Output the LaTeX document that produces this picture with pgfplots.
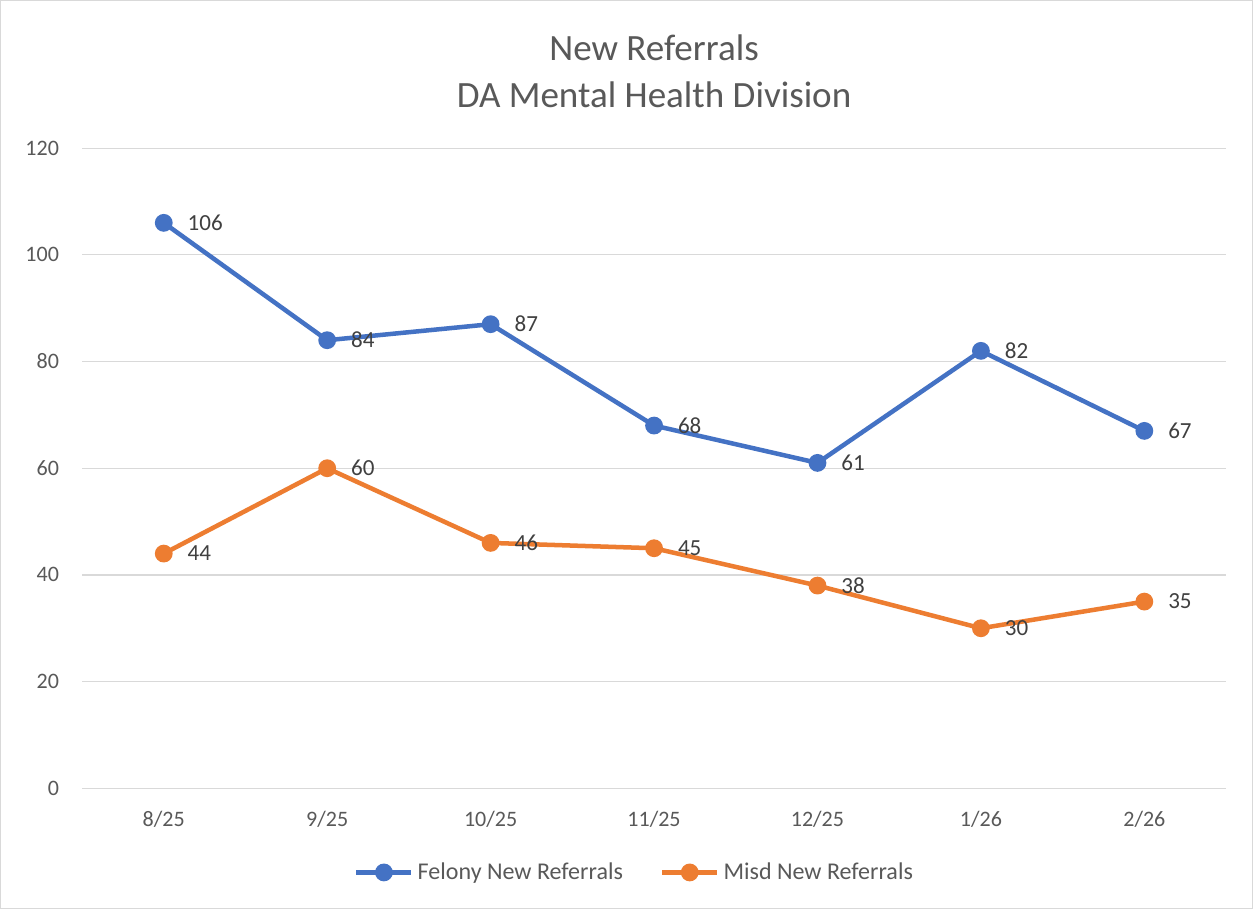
\documentclass[border=0pt]{standalone}
\usepackage{pgfplots}
\pgfplotsset{compat=1.18}
\usepackage{fontspec}
\setmainfont{Carlito}
\definecolor{blueS}{HTML}{4472C4}
\definecolor{orangeS}{HTML}{ED7D31}
\definecolor{txt}{HTML}{595959}
\definecolor{lbl}{HTML}{404040}
\definecolor{gridc}{HTML}{D9D9D9}
\begin{document}
\begin{tikzpicture}
\draw[gridc, fill=white] (0.75pt,0.75pt) rectangle (625.75pt,453.75pt);
\begin{axis}[
  at={(41.5pt,60.5pt)}, anchor=south west,
  scale only axis, width=571pt, height=319.5pt,
  xmin=-0.5, xmax=6.5, ymin=0, ymax=120,
  xtick={0,...,6}, xticklabels={8/25,9/25,10/25,11/25,12/25,1/26,2/26},
  ytick={0,20,...,120},
  axis line style={draw=none},
  x axis line style={draw=gridc},
  xmajorgrids=false, ymajorgrids=true,
  grid style={draw=gridc, line width=0.6pt},
  major tick length=0pt,
  tick label style={font=\fontsize{11}{13}\selectfont, text=txt},
  /pgf/number format/assume math mode=true,
  xticklabel style={yshift=-8pt},
  yticklabel style={xshift=-8pt},
  title={New Referrals\\DA Mental Health Division},
  title style={at={(0.5,1)}, anchor=south, yshift=10.5pt, align=center, font=\fontsize{18.5}{23.5}\selectfont, text=txt},
  legend style={at={(axis description cs:0.5,0)}, anchor=center, yshift=-42pt, xshift=-9.25pt, draw=none, legend columns=2,
    font=\fontsize{12}{14}\selectfont, text=txt, /tikz/every even column/.append style={column sep=16.5pt}},
  legend image code/.code={\draw[#1, line width=2.25pt] (0pt,0pt) -- (27.5pt,0pt); \fill[#1] (13.75pt,0pt) circle (3.3pt);},
  nodes near coords,
  every node near coord/.append style={anchor=west, xshift=7.5pt, font=\fontsize{11.5}{13}\selectfont, text=lbl},
]
\addplot[blueS, line width=2.25pt, mark=*, mark size=3.3pt] coordinates {
(0,106) (1,84) (2,87) (3,68) (4,61) (5,82) (6,67)};
\addlegendentry{Felony New Referrals}
\addplot[orangeS, line width=2.25pt, mark=*, mark size=3.3pt] coordinates {
(0,44) (1,60) (2,46) (3,45) (4,38) (5,30) (6,35)};
\addlegendentry{Misd New Referrals}
\end{axis}
\end{tikzpicture}
\end{document}
